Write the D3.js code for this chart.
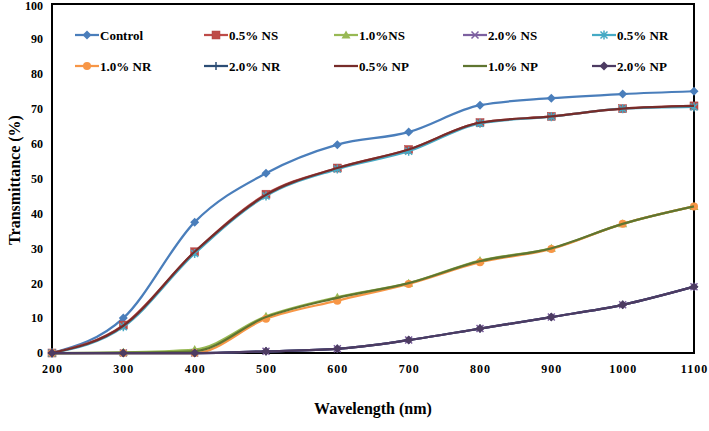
<!DOCTYPE html>
<html><head><meta charset="utf-8">
<script src="https://cdn.jsdelivr.net/npm/d3@7"></script>
<style>body{margin:0;background:#fff}svg{display:block}text{font-family:"Liberation Serif","Times New Roman",serif;font-weight:bold}</style>
</head><body><svg id="c" width="709" height="431"></svg>
<script>
const wavelengths = [200,300,400,500,600,700,800,900,1000,1100];
const seriesNames = ["Control","0.5% NS","1.0%NS","2.0% NS","0.5% NR","1.0% NR","2.0% NR","0.5% NP","1.0% NP","2.0% NP"];
const control = [0,10,37.5,51.5,59.7,63.3,71,73,74.2,75];
const ns05 = [0,8,29,45.5,53,58.3,66,67.8,70,70.8];
const ns10 = [0,0.2,1,10.5,16,20,26.5,30,37,42];
const ns20 = [0,0,0,0.5,1.2,3.7,7,10.3,13.8,19];
const nr05 = [0,7.5,28.5,45,52.7,57.8,65.8,67.7,70,70.5];
const nr10 = [0,0,0,9.8,15,19.8,26,29.8,37,42];
const nr20 = [0,0,0,0.5,1.2,3.7,7,10.3,13.8,19];
const np05 = [0,7.8,29,45.3,53,58.3,66,67.8,70,70.8];
const np10 = [0,0.1,0.5,10.3,15.8,20,26.3,30,37,42];
const np20 = [0,0,0,0.5,1.2,3.7,7,10.3,13.8,19];
const xTicks = [200,300,400,500,600,700,800,900,1000,1100];
const yTicks = [0,10,20,30,40,50,60,70,80,90,100];

const seriesValues = [control,ns05,ns10,ns20,nr05,nr10,nr20,np05,np10,np20];
const colors = ["#4A7EBB","#BE4B48","#98B954","#7D60A0","#46AAC5","#F79646","#2C4D75","#772C2A","#5F7530","#4D3B62"];
const markers = ["diamond","square","triangle","x","asterisk","circle","plus","none","none","diamond"];

const svg = d3.select("#c");
const L=52,R=694,T=4,B=353;
const x = d3.scaleLinear().domain([200,1100]).range([L,R]);
const y = d3.scaleLinear().domain([0,100]).range([B,T]);

// frame
svg.append("rect").attr("x",L).attr("y",T).attr("width",R-L).attr("height",B-T)
  .attr("fill","none").attr("stroke","#000").attr("stroke-width",2);

// axes labels
const xa = svg.append("g").attr("transform",`translate(0,${B})`)
  .call(d3.axisBottom(x).tickValues(xTicks).tickSize(0).tickPadding(11).tickFormat(d3.format("d")));
xa.select(".domain").remove();
xa.selectAll("text").attr("font-size",12).attr("fill","#000").attr("letter-spacing","1px");
const ya = svg.append("g").attr("transform",`translate(${L},0)`)
  .call(d3.axisLeft(y).tickValues(yTicks).tickSize(0).tickPadding(9).tickFormat(d3.format("d")));
ya.select(".domain").remove();
ya.selectAll("text").attr("font-size",12).attr("fill","#000");
ya.selectAll(".tick").filter(d=>d===100).select("text").attr("y",2);

svg.append("text").attr("x",373).attr("y",414).attr("text-anchor","middle").attr("font-size",16).text("Wavelength (nm)");
svg.append("text").attr("transform","translate(20,180) rotate(-90)").attr("text-anchor","middle").attr("font-size",16).text("Transmittance (%)");

function drawMarker(g, type, cx, cy, color){
  if(type==="diamond"){
    g.append("path").attr("d",`M${cx},${cy-4.5}L${cx+4.5},${cy}L${cx},${cy+4.5}L${cx-4.5},${cy}Z`).attr("fill",color);
  } else if(type==="square"){
    g.append("rect").attr("x",cx-4).attr("y",cy-4).attr("width",8).attr("height",8).attr("fill",color).attr("stroke","#b04040").attr("stroke-width",0.5);
  } else if(type==="triangle"){
    g.append("path").attr("d",`M${cx},${cy-4.5}L${cx+4.5},${cy+3.5}L${cx-4.5},${cy+3.5}Z`).attr("fill",color);
  } else if(type==="circle"){
    g.append("circle").attr("cx",cx).attr("cy",cy).attr("r",4).attr("fill",color);
  } else if(type==="x"){
    g.append("path").attr("d",`M${cx-3.5},${cy-3.5}L${cx+3.5},${cy+3.5}M${cx-3.5},${cy+3.5}L${cx+3.5},${cy-3.5}`).attr("stroke",color).attr("stroke-width",1.5);
  } else if(type==="plus"){
    g.append("path").attr("d",`M${cx-4},${cy}L${cx+4},${cy}M${cx},${cy-4}L${cx},${cy+4}`).attr("stroke",color).attr("stroke-width",1.5);
  } else if(type==="asterisk"){
    g.append("path").attr("d",`M${cx-3.5},${cy-3.5}L${cx+3.5},${cy+3.5}M${cx-3.5},${cy+3.5}L${cx+3.5},${cy-3.5}M${cx},${cy-4.5}L${cx},${cy+4.5}`).attr("stroke",color).attr("stroke-width",1.5);
  }
}

const line = d3.line().x((d,i)=>x(wavelengths[i])).y(d=>y(d)).curve(d3.curveMonotoneX);
const plot = svg.append("g");
seriesValues.forEach((vals,k)=>{
  const g = plot.append("g");
  g.append("path").attr("d",line(vals)).attr("fill","none").attr("stroke",colors[k]).attr("stroke-width",2.25);
  vals.forEach((v,i)=>drawMarker(g,markers[k],x(wavelengths[i]),y(v),colors[k]));
});

// legend
const colX = [75,204,334,463,592];
const rowY = [35,66];
seriesNames.forEach((name,k)=>{
  const cx = colX[k%5], cy = rowY[Math.floor(k/5)];
  const g = svg.append("g");
  g.append("line").attr("x1",cx).attr("x2",cx+24).attr("y1",cy).attr("y2",cy).attr("stroke",colors[k]).attr("stroke-width",2.25);
  drawMarker(g,markers[k],cx+12,cy,colors[k]);
  g.append("text").attr("x",cx+25).attr("y",cy+4.5).attr("font-size",13).attr("fill","#000").text(name);
});
</script></body></html>
